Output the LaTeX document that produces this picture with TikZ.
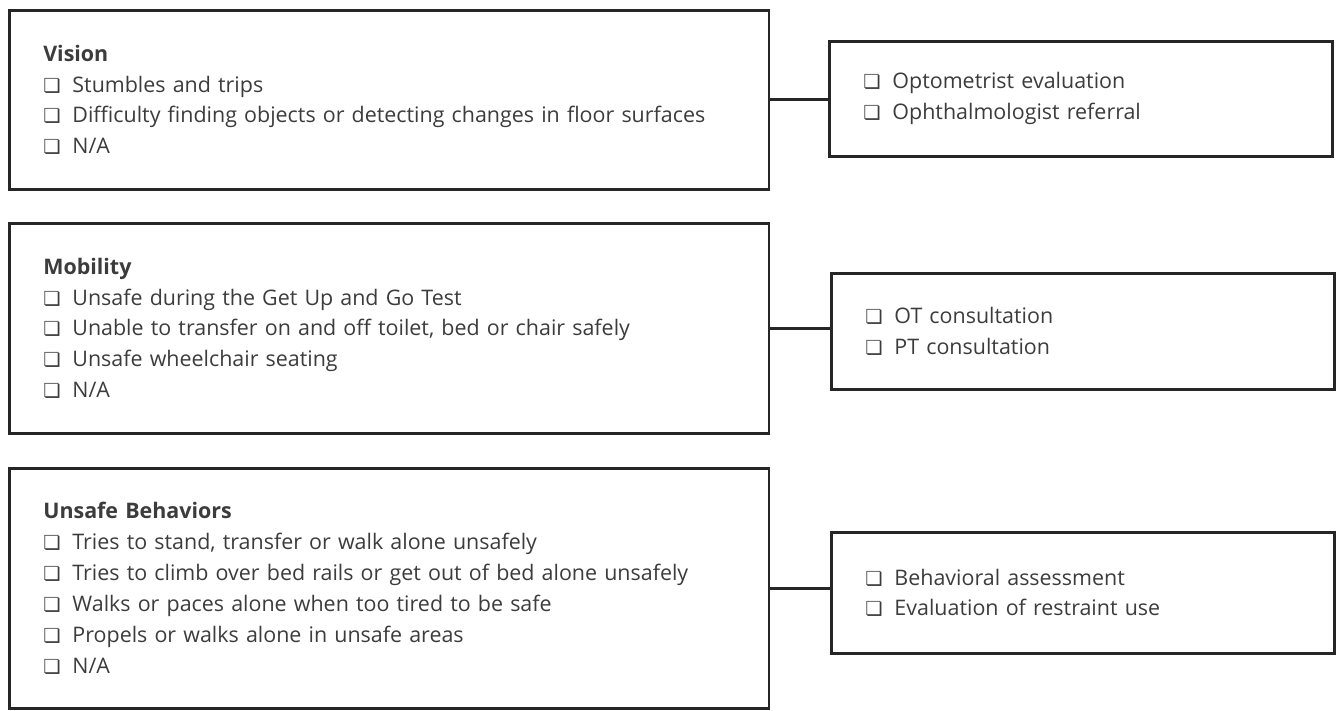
\documentclass[tikz,border=0pt]{standalone}
\usepackage{fontspec}
\setmainfont{Open Sans}
\newfontfamily\symfont{DejaVu Sans}
\usepackage{xcolor}
\usetikzlibrary{positioning}
\definecolor{inkgray}{HTML}{3C3C3C}
\definecolor{framegray}{HTML}{262626}
% check box in front of each item
\newcommand{\chk}{{\symfont\fontsize{11}{11}\selectfont ❏}\hspace{0.55em}}

\tikzset{
  riskbox/.style={draw=framegray, line width=1.5pt, text=inkgray, align=left,
    font=\fontsize{12.2}{17.6}\selectfont, inner xsep=0.68cm, inner ysep=0pt,
    anchor=north west, text width=13.84cm},
  actbox/.style={riskbox, text width=8.7cm},
  link/.style={draw=framegray, line width=1.5pt}
}

\begin{document}
\begin{tikzpicture}[x=0.02cm,y=-0.02cm]
\useasboundingbox (0,0) rectangle (1337,710);
% Risk factors
\node[riskbox, minimum height=3.58cm] (vision) at (8,9) {\textbf{Vision}\\
  \chk Stumbles and trips\\
  \chk Difficulty finding objects or detecting changes in floor surfaces\\
  \chk N/A};
\node[riskbox, minimum height=4.2cm] (mobility) at (8,222) {\textbf{Mobility}\\
  \chk Unsafe during the Get Up and Go Test\\
  \chk Unable to transfer on and off toilet, bed or chair safely\\
  \chk Unsafe wheelchair seating\\
  \chk N/A};
\node[riskbox, minimum height=4.8cm] (behavior) at (8,467) {\textbf{Unsafe Behaviors}\\
  \chk Tries to stand, transfer or walk alone unsafely\\
  \chk Tries to climb over bed rails or get out of bed alone unsafely\\
  \chk Walks or paces alone when too tired to be safe\\
  \chk Propels or walks alone in unsafe areas\\
  \chk N/A};
% Interventions
\node[actbox, minimum height=2.3cm] (visionact) at (828,40) {\chk Optometrist evaluation\\
  \chk Ophthalmologist referral};
\node[actbox, minimum height=2.32cm] (mobilityact) at (830,272) {\chk OT consultation\\
  \chk PT consultation};
\node[actbox, minimum height=2.42cm] (behavioract) at (830,531) {\chk Behavioral assessment\\
  \chk Evaluation of restraint use};
% Links
\foreach \a/\b in {vision/visionact,mobility/mobilityact,behavior/behavioract}
  \draw[link] (\a.east) -- (\a.east -| \b.west);
\end{tikzpicture}
\end{document}
